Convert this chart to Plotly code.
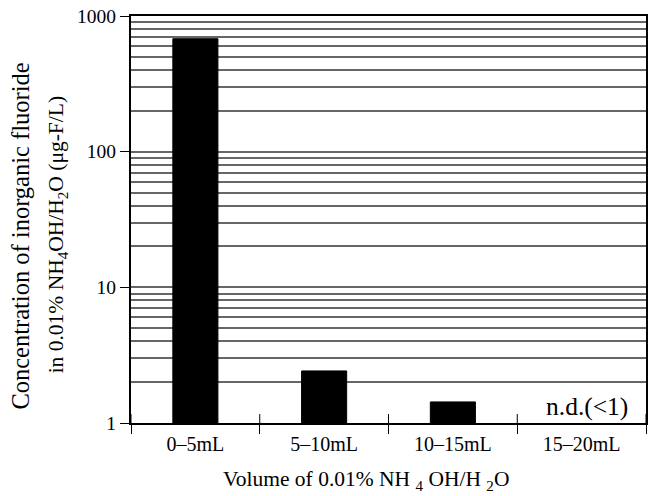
import plotly.graph_objects as go

categories = ["0–5mL", "5–10mL", "10–15mL", "15–20mL"]
values = [680, 2.42, 1.43, None]
major_ticks = [1, 10, 100, 1000]
major_labels = ["1", "10", "100", "1000"]
minor_ticks = [m * 10 ** d for d in range(3) for m in range(2, 10)]

FONT = "Liberation Serif"

fig = go.Figure()
fig.add_trace(go.Bar(
    x=categories, y=values, width=0.35,
    marker=dict(color="black", line=dict(color="black", width=1)),
))

fig.update_layout(
    width=649, height=496,
    margin=dict(l=131, r=1, t=16, b=73),
    paper_bgcolor="white", plot_bgcolor="white",
    showlegend=False,
    font=dict(family=FONT, color="black"),
)
fig.update_yaxes(
    type="log", range=[0, 3],
    tickmode="array", tickvals=major_ticks, ticktext=major_labels,
    ticks="outside", ticklen=9, tickwidth=1, tickcolor="black",
    tickfont=dict(size=19.5, family=FONT),
    showgrid=True, gridcolor="#666666", gridwidth=2,
    minor=dict(tickmode="array", tickvals=minor_ticks, showgrid=True,
               gridcolor="#666666", gridwidth=2, ticks=""),
    showline=True, linecolor="black", linewidth=2, mirror=True,
    zeroline=False,
)
fig.update_xaxes(
    type="category", range=[-0.5, len(categories) - 0.5],
    tickson="boundaries", ticks="outside", ticklen=9, tickwidth=1,
    tickcolor="black", tickfont=dict(size=20, family=FONT),
    ticklabelstandoff=2,
    showline=True, linecolor="black", linewidth=2, mirror=True,
    showgrid=False,
)
# inner half of the crossing x ticks
for i in range(len(categories) + 1):
    fig.add_shape(type="line", xref="x", yref="paper",
                  x0=i - 0.5, x1=i - 0.5, y0=0, y1=0.022,
                  line=dict(color="black", width=1))

fig.add_annotation(text="Concentration of inorganic fluoride",
                   xref="paper", yref="paper", x=-0.2147, y=0.459,
                   xanchor="center", yanchor="middle",
                   textangle=-90, showarrow=False,
                   font=dict(size=24.5, family=FONT))
fig.add_annotation(text="in 0.01% NH<sub>4</sub>OH/H<sub>2</sub>O (μg-F/L)",
                   xref="paper", yref="paper", x=-0.141, y=0.462,
                   xanchor="center", yanchor="middle",
                   textangle=-90, showarrow=False,
                   font=dict(size=21.5, family=FONT))
fig.add_annotation(text="Volume of 0.01% NH <sub>4</sub> OH/H <sub>2</sub>O",
                   xref="paper", yref="paper", x=0.457, y=-0.142,
                   xanchor="center", yanchor="middle", showarrow=False,
                   font=dict(size=21.5, family=FONT))
fig.add_annotation(text="n.d.(&lt;1)", x=categories[3], y=0.125, xshift=5,
                   showarrow=False, font=dict(size=25.5, family=FONT))

fig.write_html("out.html", config={"displayModeBar": False},
               post_script="document.body.style.margin='0';")
